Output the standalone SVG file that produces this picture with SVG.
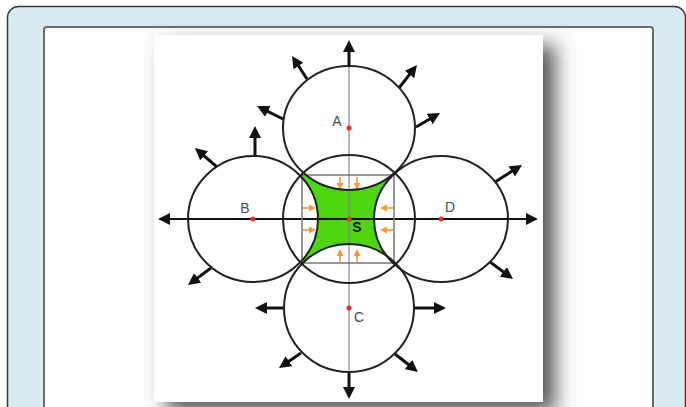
<svg xmlns="http://www.w3.org/2000/svg" width="686" height="407" viewBox="0 0 686 407">
  <style>
    .circ { fill: none; stroke: #222; stroke-width: 2; }
    .arr { fill: none; stroke: #111; stroke-width: 3; marker-end: url(#ah); }
    .oarr { fill: none; stroke: #f29a3c; stroke-width: 1.6; marker-end: url(#oh); }
    .dot { fill: #e8302a; }
    .lbl { font-family: "Liberation Sans", Arial, sans-serif; font-size: 14px; fill: #4a4a4a; text-anchor: middle; }
    .lblS { font-family: "Liberation Sans", Arial, sans-serif; font-size: 14px; font-weight: bold; fill: #111; text-anchor: middle; }
  </style>
  <defs>
    <marker id="ah" markerUnits="userSpaceOnUse" markerWidth="12" markerHeight="12" refX="8" refY="6" orient="auto-start-reverse">
      <path d="M0,0 L12,6 L0,12 Z" fill="#111"/>
    </marker>
    <marker id="oh" markerUnits="userSpaceOnUse" markerWidth="7" markerHeight="7" refX="3" refY="3.5" orient="auto">
      <path d="M0,0 L7,3.5 L0,7 Z" fill="#f29a3c"/>
    </marker>
    <filter id="blur" x="-20%" y="-20%" width="140%" height="140%">
      <feGaussianBlur stdDeviation="10"/>
    </filter>
    <mask id="gm">
      <rect x="290" y="165" width="120" height="110" fill="#fff"/>
      <ellipse cx="349" cy="128" rx="66" ry="62" fill="#000"/>
      <ellipse cx="253" cy="219" rx="65" ry="63" fill="#000"/>
      <ellipse cx="441" cy="219" rx="67" ry="63" fill="#000"/>
      <ellipse cx="349" cy="308" rx="65" ry="64" fill="#000"/>
    </mask>
  </defs>

  <!-- frames -->
  <rect x="0" y="0" width="686" height="407" fill="#ffffff"/>
  <rect x="7.5" y="6.5" width="678" height="420" rx="11" fill="#d8ebf0" stroke="#3a3a3a" stroke-width="1.5"/>
  <rect x="44" y="27" width="609" height="400" rx="3" fill="#fdfdfd" stroke="#6b6b6b" stroke-width="2"/>
  <rect x="166" y="45" width="389" height="367" fill="#555" filter="url(#blur)"/>
  <rect x="154" y="35" width="389" height="367" fill="#ffffff"/>

  <!-- green region -->
  <g id="region">
    <rect x="302" y="175" width="92" height="88" fill="#4fd611" mask="url(#gm)"/>
  </g>

  <g id="connectors">
    <!-- axes -->
    <line x1="349" y1="67" x2="349" y2="373" stroke="#888" stroke-width="1.2"/>
    <line x1="162" y1="219" x2="534" y2="219" stroke="#111" stroke-width="2.2" marker-start="url(#ah)" marker-end="url(#ah)"/>
    <!-- square -->
    <rect x="302" y="175" width="92" height="88" fill="none" stroke="#777" stroke-width="1.5"/>
    <!-- outward arrows -->
    <line class="arr" x1="349" y1="67" x2="349" y2="44"/>
    <line class="arr" x1="307" y1="79" x2="294.2" y2="59.3"/>
    <line class="arr" x1="399" y1="88" x2="414.5" y2="68.2"/>
    <line class="arr" x1="283" y1="119" x2="260.6" y2="107.8"/>
    <line class="arr" x1="416" y1="127" x2="436.5" y2="115"/>
    <line class="arr" x1="255" y1="156" x2="255" y2="130"/>
    <line class="arr" x1="217" y1="167" x2="198" y2="150.6"/>
    <line class="arr" x1="495" y1="182" x2="518.6" y2="167.1"/>
    <line class="arr" x1="211" y1="268" x2="191.2" y2="282.6"/>
    <line class="arr" x1="490" y1="262" x2="509.8" y2="276.6"/>
    <line class="arr" x1="284" y1="308" x2="259" y2="308"/>
    <line class="arr" x1="414" y1="308" x2="442" y2="308"/>
    <line class="arr" x1="301" y1="353" x2="282.3" y2="365.7"/>
    <line class="arr" x1="395" y1="354" x2="414.8" y2="369.5"/>
    <line class="arr" x1="349" y1="372" x2="349" y2="395"/>
    <!-- inward orange arrows -->
    <line class="oarr" x1="340" y1="177" x2="340" y2="186"/>
    <line class="oarr" x1="357" y1="177" x2="357" y2="186"/>
    <line class="oarr" x1="340" y1="262" x2="340" y2="253"/>
    <line class="oarr" x1="357" y1="262" x2="357" y2="253"/>
    <line class="oarr" x1="303" y1="208" x2="312" y2="208"/>
    <line class="oarr" x1="303" y1="230" x2="312" y2="230"/>
    <line class="oarr" x1="393" y1="208" x2="384" y2="208"/>
    <line class="oarr" x1="393" y1="230" x2="384" y2="230"/>
  </g>

  <g id="node-A">
    <ellipse class="circ" cx="349" cy="128" rx="66" ry="62"/>
    <circle class="dot" cx="349" cy="128" r="2.5"/>
    <text class="lbl" x="337" y="126">A</text>
  </g>
  <g id="node-B">
    <ellipse class="circ" cx="253" cy="219" rx="65" ry="63"/>
    <circle class="dot" cx="253" cy="219" r="2.5"/>
    <text class="lbl" x="245" y="213">B</text>
  </g>
  <g id="node-D">
    <ellipse class="circ" cx="441" cy="219" rx="67" ry="63"/>
    <circle class="dot" cx="441" cy="219" r="2.5"/>
    <text class="lbl" x="450" y="212">D</text>
  </g>
  <g id="node-C">
    <ellipse class="circ" cx="349" cy="308" rx="65" ry="64"/>
    <circle class="dot" cx="349" cy="308" r="2.5"/>
    <text class="lbl" x="359" y="322">C</text>
  </g>
  <g id="node-S">
    <ellipse class="circ" cx="349" cy="219" rx="66" ry="64"/>
    <circle class="dot" cx="349" cy="219" r="2.5"/>
    <text class="lblS" x="357" y="232">S</text>
  </g>
</svg>
